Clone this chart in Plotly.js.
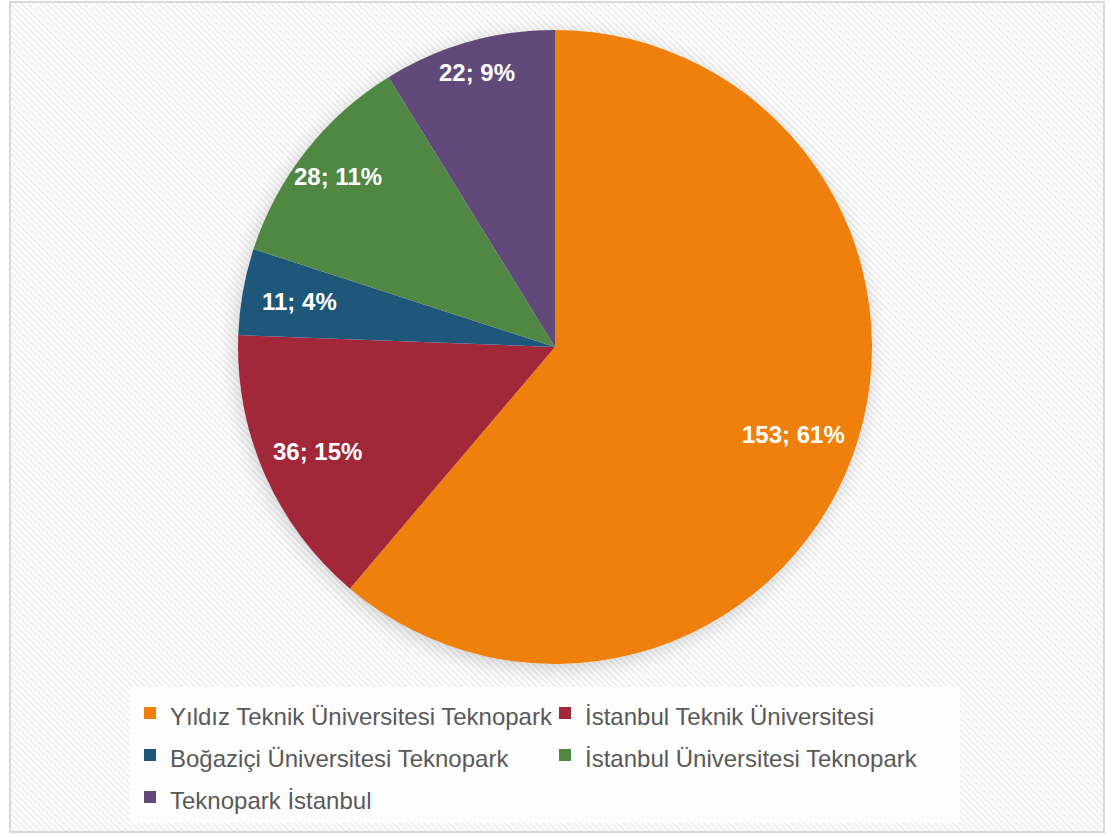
<!DOCTYPE html>
<html>
<head>
<meta charset="utf-8">
<script src="https://cdn.plot.ly/plotly-3.0.1.min.js"></script>
<style>
  html, body { margin: 0; padding: 0; background: #ffffff; }
  #wrap {
    position: relative; width: 1119px; height: 837px; overflow: hidden;
  }
  #frame {
    position: absolute; left: 9px; top: 1px; width: 1092px; height: 828px;
    border: 2px solid #d9d9d9;
    background: repeating-linear-gradient(45deg, #ffffff 0px, #ffffff 2px, #f1f1f1 2.2px, #f1f1f1 4.2px, #ffffff 4.4px);
  }
  #halo {
    position: absolute; left: 238px; top: 30px; width: 634px; height: 634px;
    border-radius: 50%; box-shadow: -2px 4px 20px rgba(0,0,0,0.18);
  }
  #chart { position: absolute; left: 0; top: 0; width: 1119px; height: 837px; }
</style>
</head>
<body>
<div id="wrap">
  <div id="frame"></div>
  <div id="halo"></div>
  <div id="chart"></div>
</div>
<script>
// Teknopark firm counts in Istanbul
const parks = [
  'Yıldız Teknik Üniversitesi Teknopark',
  'İstanbul Teknik Üniversitesi',
  'Boğaziçi Üniversitesi Teknopark',
  'İstanbul Üniversitesi Teknopark',
  'Teknopark İstanbul'
];
const counts = [153, 36, 11, 28, 22];
const shareLabels = ['61%', '15%', '4%', '11%', '9%'];
const sliceColors = ['#F0800C', '#A22839', '#1E577A', '#4F8743', '#614A7A'];

// Data label placement: fraction of the radius along each slice's middle angle
const labelRadius = [0.80, 0.82, 0.82, 0.87, 0.90];

const W = 1119, H = 837;
const cx = 555, cy = 347, r = 317;

const domainX = [(cx - r) / W, (cx + r) / W];
const domainY = [1 - (cy + r) / H, 1 - (cy - r) / H];

const trace = {
  type: 'pie',
  labels: parks.map(p => '<span style="font-size:24px">' + p + '</span>'),
  values: counts,
  textinfo: 'none',
  marker: { colors: sliceColors, line: { width: 0 } },
  sort: false,
  direction: 'clockwise',
  rotation: 0,
  domain: { x: domainX, y: domainY },
  hoverinfo: 'label+value+percent'
};

// Data labels at the middle angle of each slice (clockwise from 12 o'clock)
const total = counts.reduce((a, b) => a + b, 0);
let cum = 0;
const annotations = counts.map((v, i) => {
  const mid = (cum + v / 2) / total;
  cum += v;
  const ang = Math.PI / 2 - mid * 2 * Math.PI;
  const px = cx + labelRadius[i] * r * Math.cos(ang);
  const py = cy - labelRadius[i] * r * Math.sin(ang);
  return {
    xref: 'paper', yref: 'paper',
    x: px / W, y: 1 - py / H,
    xanchor: 'center', yanchor: 'middle',
    text: '<b>' + v + '; ' + shareLabels[i] + '</b>',
    showarrow: false,
    font: { family: 'Liberation Sans, Arial, sans-serif', size: 24, color: '#ffffff' }
  };
});

const layout = {
  width: W, height: H,
  margin: { l: 0, r: 0, t: 0, b: 0 },
  paper_bgcolor: 'rgba(0,0,0,0)',
  plot_bgcolor: 'rgba(0,0,0,0)',
  showlegend: true,
  annotations: annotations,
  legend: {
    orientation: 'h',
    x: 130 / W, xanchor: 'left',
    y: 1 - 687 / H, yanchor: 'top',
    entrywidth: 370,
    entrywidthmode: 'pixels',
    bgcolor: 'rgba(255,255,255,0.8)',
    borderwidth: 0,
    font: { family: 'Liberation Sans, Arial, sans-serif', size: 30, color: '#595959' },
    traceorder: 'normal'
  }
};

Plotly.newPlot('chart', [trace], layout, { displayModeBar: false, staticPlot: true });
</script>
</body>
</html>
